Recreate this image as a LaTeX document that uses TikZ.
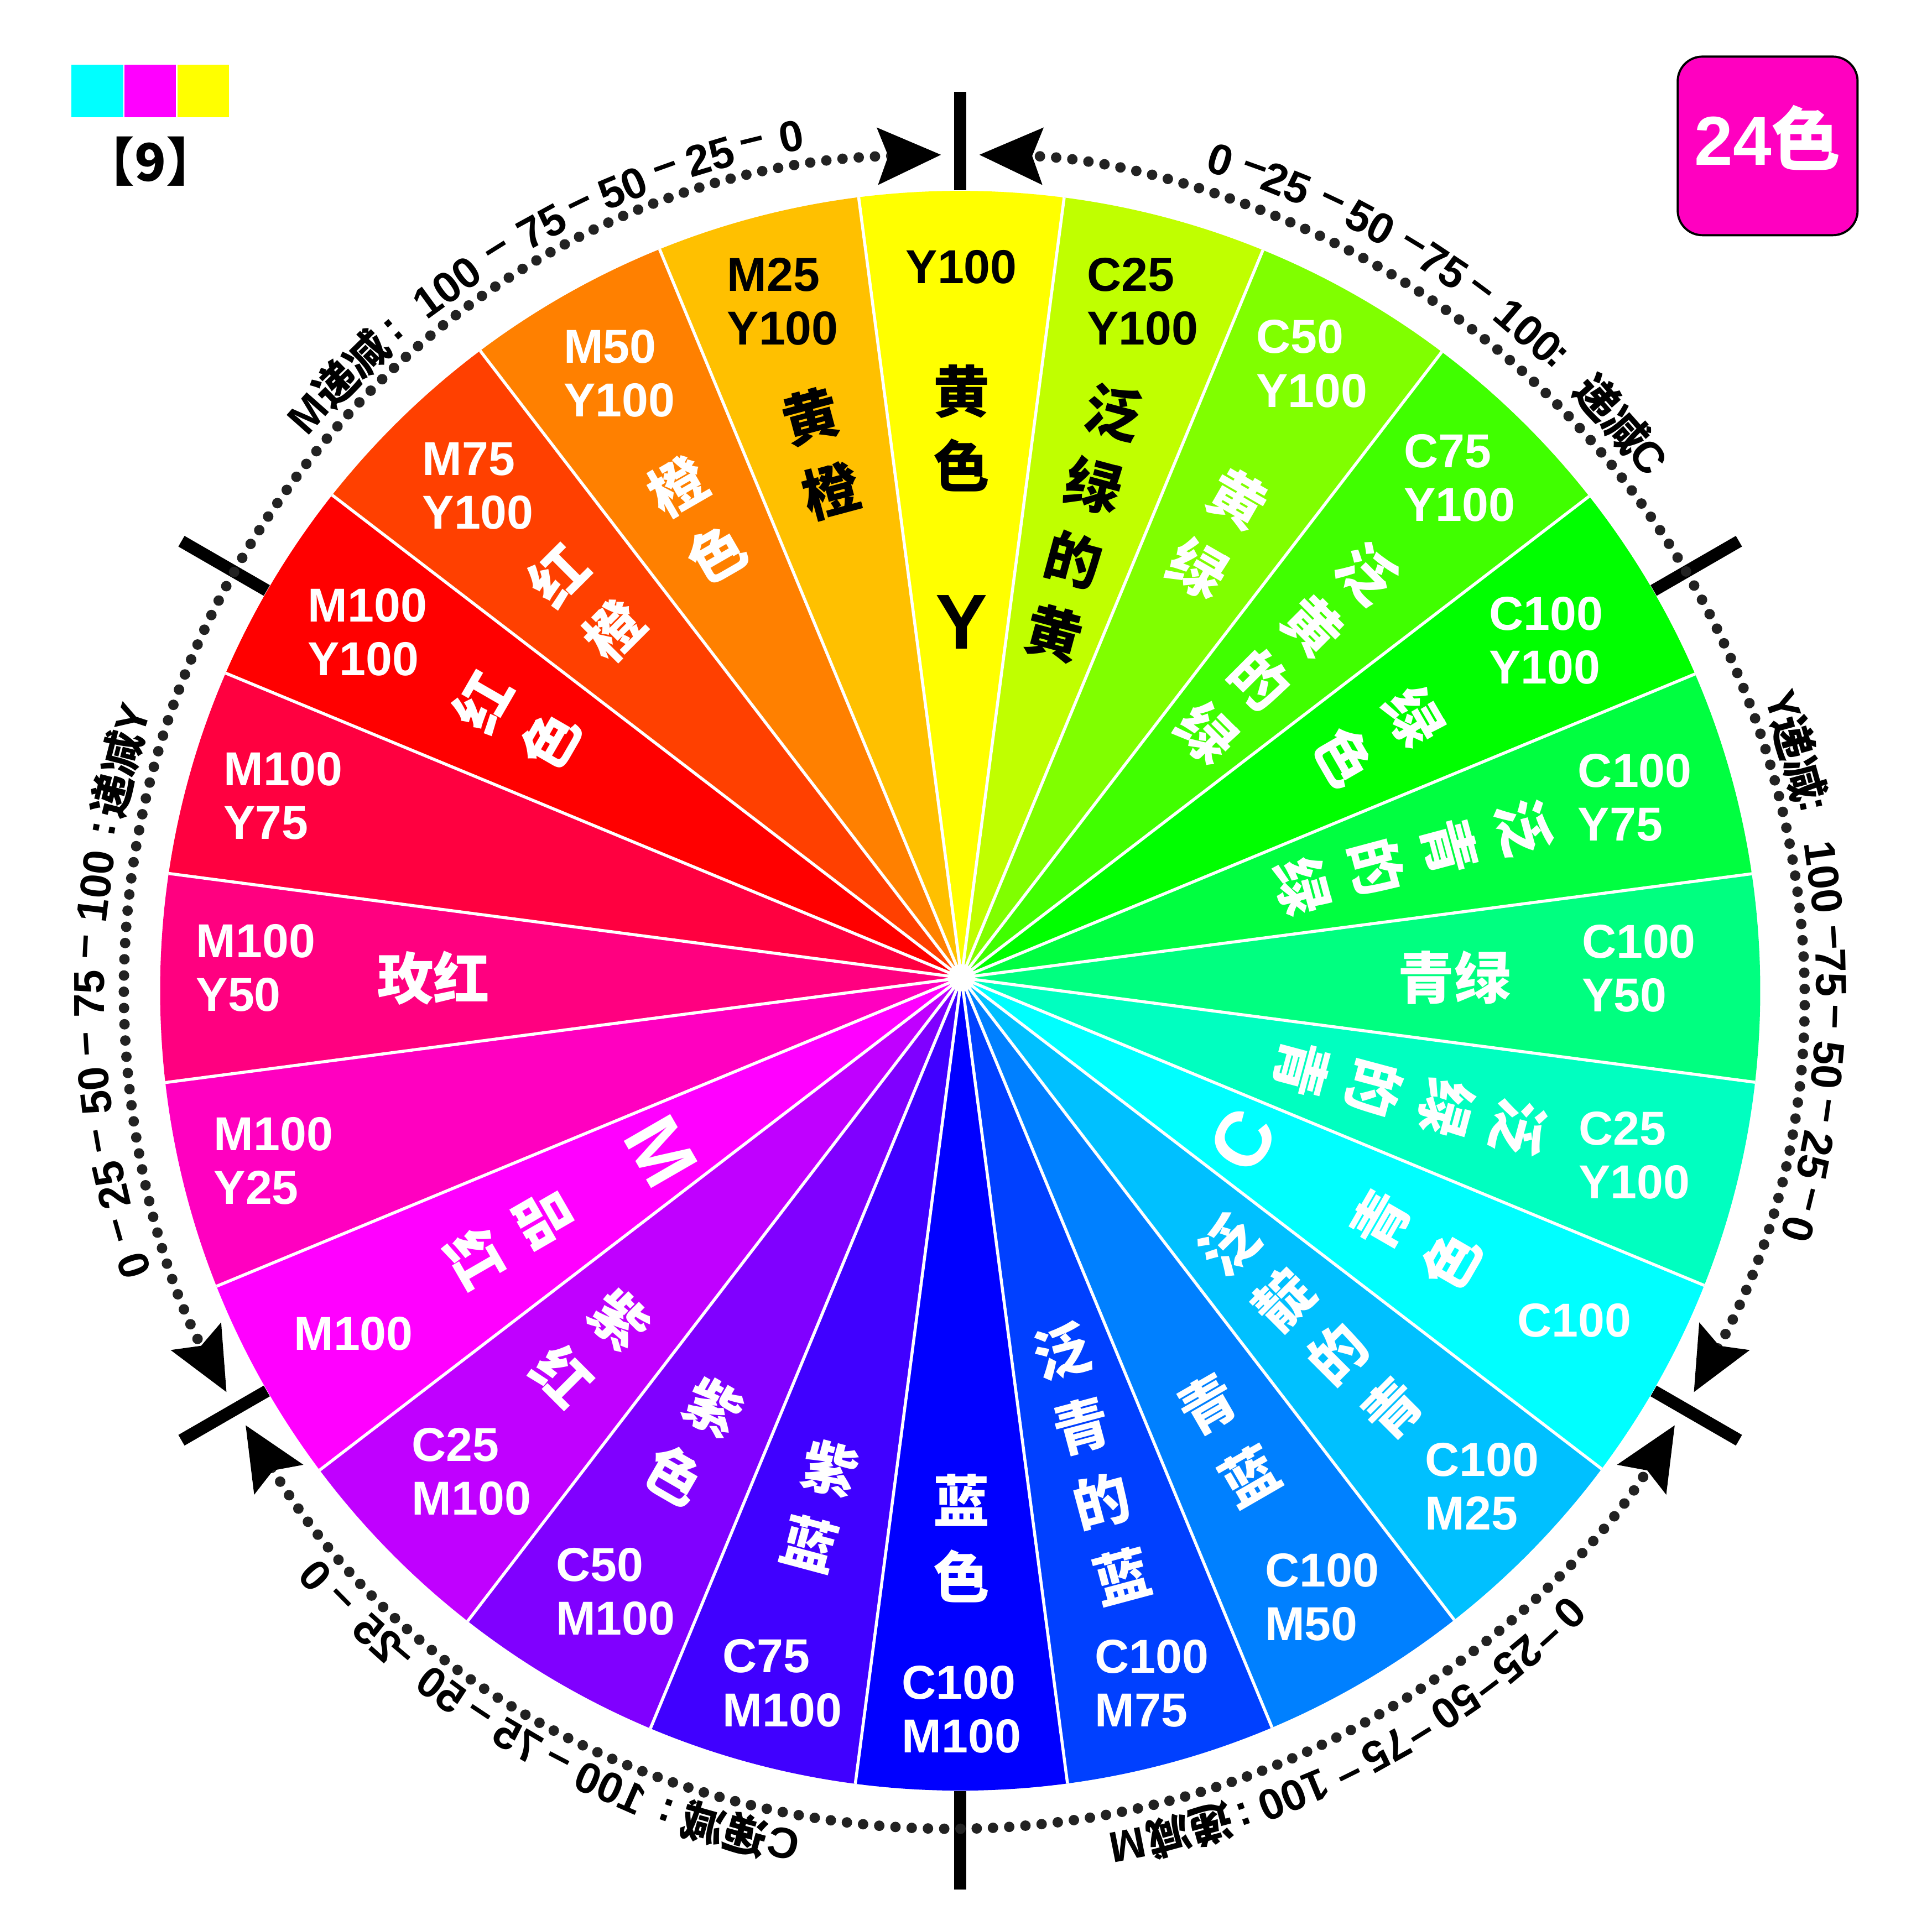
\documentclass[tikz,border=0pt]{standalone}
\usepackage{fontspec}
\setmainfont{Liberation Sans}
\newfontfamily\cjk{Noto Sans CJK SC}
\usetikzlibrary{calc}
\usetikzlibrary{arrows.meta}

\definecolor{dotgray}{HTML}{222222}
\definecolor{boxpink}{HTML}{FF00C0}
\definecolor{pcyan}{HTML}{00FFFF}
\definecolor{pmagenta}{HTML}{FF00FF}
\definecolor{pyellow}{HTML}{FFFF00}

\tikzset{
  code/.style={font=\fontsize{11}{12.4}\selectfont\bfseries, align=left, inner sep=0pt},
  cname/.style={font=\fontsize{13}{13}\selectfont\cjk\bfseries, text=white, inner sep=0pt},
  bigletter/.style={font=\fontsize{18}{18}\selectfont\bfseries, inner sep=0pt},
  arcnum/.style={font=\fontsize{10}{10}\selectfont\bfseries, inner sep=0pt},
  tickline/.style={line width=0.1cm},
  sepline/.style={white, line width=0.7pt},
  dotarc/.style={dotgray, line width=0.085cm, line cap=round, dash pattern=on 0pt off 0.132cm},
}

% chinese colour name, one character after the other along a ray
\newcommand{\namecol}[6][white]{%
  \foreach \ch [count=\k] in {#6}
    \node[cname, text=#1, rotate=#3] (name#2-\k) at ($(hub)+(#2:{#4+(\k-1)*(#5)})$) {\ch};
}

\begin{document}
\begin{tikzpicture}[>={Stealth[length=0.51cm,width=0.45cm,inset=0.08cm,color=black]}]
  \useasboundingbox (0,0) rectangle (15.68,15.68);
  \coordinate (hub) at (7.805,7.74);
  \coordinate (ctr) at (7.795,7.635);

  % colour wheel
  \begin{scope}
    \clip (ctr) circle (6.495);
    \foreach \a/\hex in {90/FFFF00,75/C0FF00,60/80FF00,45/40FF00,30/00FF00,15/00FF40,
        0/00FF80,-15/00FFC0,-30/00FFFF,-45/00C0FF,-60/0080FF,-75/0040FF,
        -90/0000FF,-105/4000FF,-120/8000FF,-135/C000FF,-150/FF00FF,-165/FF00C0,
        180/FF0080,165/FF0040,150/FF0000,135/FF4000,120/FF8000,105/FFC000}{
      \definecolor{segcol}{HTML}{\hex}
      \fill[segcol] (hub) -- +(\a-7.5:8) -- +(\a+7.5:8) -- cycle;
    }
    \foreach \a in {7.5,22.5,...,352.5}
      \draw[sepline] (hub) -- +(\a:8);
  \end{scope}
  \fill[white] (hub) circle (0.11);

  % CMY values
  \foreach \la/\lr/\lab/\tc [count=\i] in {
      90/5.77/{Y100}/black, 75/5.685/{C25\\Y100}/black, 60.3/5.74/{C50\\Y100}/white,
      45.1/5.73/{C75\\Y100}/white, 30/5.48/{C100\\Y100}/white, 15/5.66/{C100\\Y75}/white,
      0.8/5.50/{C100\\Y50}/white, -14.8/5.65/{C25\\Y100}/white, -29.2/5.70/{C100}/white,
      -44.35/5.91/{C100\\M25}/white, -59.8/5.82/{C100\\M50}/white, -74.9/5.935/{C100\\M75}/white,
      -90/5.94/{C100\\M100}/white, -104.25/5.91/{C75\\M100}/white, -119.4/5.72/{C50\\M100}/white,
      -134.75/5.65/{C25\\M100}/white, -149.65/5.72/{M100}/white, -165.1/5.78/{M100\\Y25}/white,
      179.2/5.73/{M100\\Y50}/white, 165/5.70/{M100\\Y75}/white, 149.8/5.58/{M100\\Y100}/white,
      134.5/5.60/{M75\\Y100}/white, 119.5/5.64/{M50\\Y100}/white, 104.8/5.68/{M25\\Y100}/black}
    \node[code, text=\tc] (code\i) at ($(hub)+(\la:\lr)$) {\lab};

  % colour names
  \namecol[black]{90}{0}{4.76}{-0.60}{黄,色}
  \namecol[black]{75}{-15}{4.756}{-0.62}{泛,绿,的,黄}
  \namecol{60}{-30}{4.49}{-0.655}{黄,绿}
  \namecol{45}{-45}{4.65}{-0.613}{泛,黄,的,绿}
  \namecol{30}{-60}{4.24}{-0.65}{绿,色}
  \namecol{15}{-75}{4.725}{-0.62}{泛,青,的,绿}
  \namecol{-15}{-105}{4.686}{-0.609}{泛,绿,的,青}
  \namecol{-30}{60}{3.93}{0.657}{青,色}
  \namecol{-45}{45}{3.066}{0.627}{泛,靛,的,青}
  \namecol{-60}{30}{4.00}{0.67}{青,蓝}
  \namecol{-75}{15}{3.139}{0.63}{泛,青,的,蓝}
  \namecol{-90}{0}{4.24}{0.62}{蓝,色}
  \namecol{-105}{-15}{4.13}{0.626}{紫,蓝}
  \namecol{-120}{-30}{4.03}{0.63}{紫,色}
  \namecol{-135}{-45}{3.928}{0.642}{紫,红}
  \namecol{-150}{-60}{3.91}{0.64}{品,红}
  \namecol{150}{60}{4.49}{-0.63}{红,色}
  \namecol{135}{45}{4.63}{-0.644}{红,橙}
  \namecol{120}{30}{4.61}{-0.63}{橙,色}
  \namecol[black]{105}{15}{4.72}{-0.63}{黄,橙}
  \node[cname] (qinglv) at ($(hub)+(0:4.0)$) {青绿};
  \node[cname] (meihong) at ($(hub)+(180:4.285)$) {玫红};

  % primaries
  \node[bigletter] (bigY) at ($(hub)+(90:2.89)$) {Y};
  \node[bigletter, text=white, rotate=60] (bigC) at ($(hub)+(-30:2.64)$) {C};
  \node[bigletter, text=white, rotate=-60] (bigM) at ($(hub)+(-150:2.82)$) {M};

  % ticks and dotted scales
  \foreach \t in {30,90,...,330}
    \draw[tickline] ($(ctr)+(\t:6.5)$) -- ($(ctr)+(\t:7.3)$);
  \foreach \s in {90,210,330}
    \draw[dotarc, <->] ($(ctr)+(\s+1.3:6.79)$) arc[start angle=\s+1.3, end angle=\s+118.7, radius=6.79];

  \foreach \a/\t [count=\i] in {138.5/M, 134.4/{\cjk 递减}, 130.6/:, 126.1/100, 122.0/–, 118.7/75,
      115.8/–, 112.8/50, 109.7/–, 106.7/25, 103.8/–, 101.2/0}
    \node[arcnum, rotate=\a-90] (tl\i) at ($(ctr)+(\a:7.07)$) {\t};
  \foreach \a/\t [count=\i] in {72.6/0, 70.3/–, 68.0/25, 64.75/–, 61.9/50, 58.7/–, 56.3/75,
      53.4/–, 49.3/100, 46.7/:, 41.55/{\cjk 递减}, 37.8/C}
    \node[arcnum, rotate=\a-90] (tr\i) at ($(ctr)+(\a:7.07)$) {\t};
  \foreach \a/\t [count=\i] in {19.1/Y, 15.5/{\cjk 递减}, 12.3/:, 7.5/100, 3.5/–, 1.2/75,
      -1.7/–, -4.9/50, -7.9/–, -10.9/25, -13.8/–, -15.9/0}
    \node[arcnum, rotate=\a-90] (rt\i) at ($(ctr)+(\a:7.07)$) {\t};
  \foreach \a/\t [count=\i] in {198.4/0, 195.9/–, 192.9/25, 189.9/–, 186.6/50, 183.5/–,
      180.2/75, 177.1/–, 173.1/100, 169.3/:, 165.6/{\cjk 递减}, 161.8/Y}
    \node[arcnum, rotate=\a-90] (lt\i) at ($(ctr)+(\a:7.07)$) {\t};
  \foreach \a/\t [count=\i] in {314.4/0, 312.3/–, 309.8/25, 307.2/–, 304.7/50, 301.8/–,
      299.3/75, 296.4/–, 292.5/100, 289.0/:, 285.3/{\cjk 递减}, 281.1/M}
    \node[arcnum, rotate=\a-90] (br\i) at ($(ctr)+(\a:7.07)$) {\t};
  % this scale is printed mirrored
  \foreach \a/\t [count=\i] in {258.3/C, 254.3/{\cjk 递减}, 250.3/:, 246.3/100, 242.4/–,
      239.45/75, 236.4/–, 233.4/50, 229.8/–, 228.0/25, 224.5/–, 222.2/0}
    \node[arcnum, rotate=\a-90, yscale=-1] (bl\i) at ($(ctr)+(\a:7.07)$) {\t};

  % legend and title
  \fill[pcyan] (0.58,14.73) rectangle (1.00,15.155);
  \fill[pmagenta] (1.01,14.73) rectangle (1.43,15.155);
  \fill[pyellow] (1.44,14.73) rectangle (1.86,15.155);
  \node[font=\fontsize{12}{12}\selectfont\cjk\bfseries, inner sep=0pt] (idx) at (1.22,14.37) {【9】};
  \node[draw, line width=0.5pt, fill=boxpink, rounded corners=0.2cm, minimum width=1.46cm,
    minimum height=1.45cm] (title) at (14.35,14.495) {};
  \node[text=white, font=\fontsize{16}{16}\selectfont\bfseries, inner sep=0pt] (titletext)
    at (14.35,14.56) {24{\cjk 色}};
\end{tikzpicture}
\end{document}
